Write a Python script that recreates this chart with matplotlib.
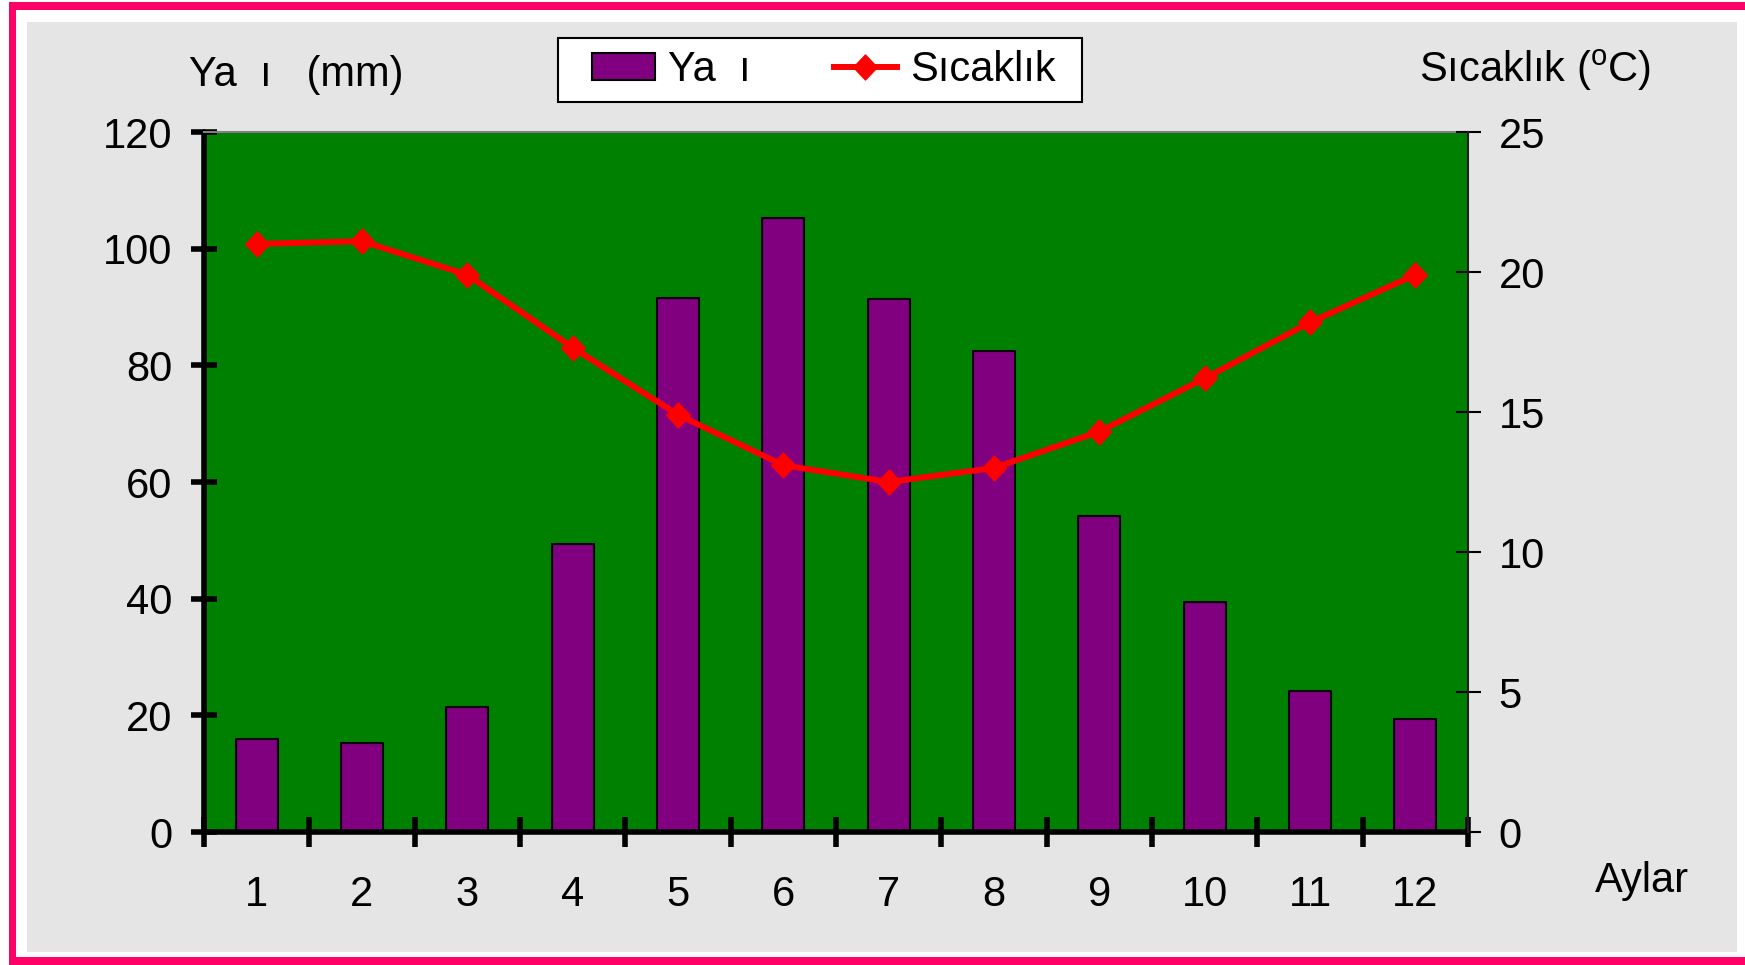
import matplotlib.pyplot as plt
from matplotlib.patches import Rectangle
from matplotlib.path import Path

plt.rcParams['font.family'] = ['Liberation Sans', 'DejaVu Sans']
plt.rcParams['mathtext.fontset'] = 'custom'
plt.rcParams['mathtext.rm'] = 'Liberation Sans'

months = [1, 2, 3, 4, 5, 6, 7, 8, 9, 10, 11, 12]
month_labels = ['1', '2', '3', '4', '5', '6', '7', '8', '9', '10', '11', '12']
rain = [16, 15.3, 21.4, 49.4, 91.6, 105.2, 91.3, 82.4, 54.2, 39.5, 24.2, 19.3]
temp = [21.0, 21.1, 19.9, 17.3, 14.9, 13.1, 12.5, 13.0, 14.3, 16.2, 18.2, 19.9]
rain_ticks = [0, 20, 40, 60, 80, 100, 120]
temp_ticks = [0, 5, 10, 15, 20, 25]

W, H = 1745, 965
FS = 30
fig = plt.figure(figsize=(W / 100, H / 100), dpi=100)
fig.patch.set_facecolor('white')


def px_rect(x0, y0, x1, y1, face, edge='none', lw=0, z=0):
    # rectangle in pixel coords measured from the top-left corner
    r = Rectangle((x0 / W, 1 - y1 / H), (x1 - x0) / W, (y1 - y0) / H,
                  transform=fig.transFigure, facecolor=face,
                  edgecolor=edge, linewidth=lw, zorder=z)
    fig.add_artist(r)
    return r


px_rect(9, 2, W + 10, H + 10, '#FF0066')
px_rect(16, 10, W + 10, 957, 'white')
px_rect(27, 22, 1737, 952, '#E5E5E5')

left, right, top, bottom = 204, 1468, 132, 832
ax = fig.add_axes([left / W, 1 - bottom / H, (right - left) / W, (bottom - top) / H])
ax.set_facecolor('#008000')
ax.bar(months, rain, width=0.4, color='#800080', edgecolor='black', linewidth=1.5, zorder=2)
ax.set_xlim(0.5, 12.5)
ax.set_ylim(0, 120)
ax.set_yticks(rain_ticks)
ax.set_xticks([m - 0.5 for m in months] + [12.5])
ax.set_xticklabels([])
ax.set_xticks(months, minor=True)
ax.set_xticklabels(month_labels, minor=True)
ax.tick_params(axis='x', which='major', direction='inout', length=21, width=4)
ax.tick_params(axis='x', which='minor', length=0, pad=31, labelsize=FS)
ax.tick_params(axis='y', direction='inout', length=19, width=4, pad=13, labelsize=FS)
for s in ['left', 'bottom']:
    ax.spines[s].set_linewidth(4)
    ax.spines[s].set_capstyle('round')
ax.spines['top'].set_color('#808080')
ax.spines['top'].set_linewidth(1.5)
ax.spines['right'].set_visible(False)

ax2 = ax.twinx()
diamond = Path([(0, 1), (0.95, 0), (0, -1), (-0.95, 0), (0, 1)],
               [Path.MOVETO, Path.LINETO, Path.LINETO, Path.LINETO, Path.CLOSEPOLY])
ax2.plot(months, temp, color='red', linewidth=4.3, marker=diamond, markersize=18,
         markerfacecolor='red', markeredgecolor='red')
ax2.set_ylim(0, 25)
ax2.set_yticks(temp_ticks)
ax2.tick_params(axis='y', direction='inout', length=18, width=1.5, pad=13, labelsize=FS)
ax2.spines['right'].set_color('#202020')
ax2.spines['right'].set_linewidth(1.5)
for s in ['left', 'top', 'bottom']:
    ax2.spines[s].set_visible(False)

fig.text(189 / W, 1 - 75 / H, 'Ya  ı   (mm)', fontsize=FS, va='center', ha='left')
fig.text(1651 / W, 1 - 70 / H, 'Sıcaklık ($^{\\rm o}$C)', fontsize=FS, va='center', ha='right')
fig.text(1595 / W, 1 - 881 / H, 'Aylar', fontsize=FS, va='center', ha='left')

# legend frame drawn separately so the inner spacing can follow the reference
px_rect(558, 38, 1082, 102, 'white', edge='black', lw=1.5, z=3)
leg = fig.legend([ax.patches[0], ax2.lines[0]], ['Ya  ı', 'Sıcaklık'], loc='center left',
                 bbox_to_anchor=(592 / W, 1 - 70 / H), ncol=2,
                 fontsize=FS, frameon=False, borderpad=0, borderaxespad=0,
                 handlelength=1.51, handleheight=0.6, handletextpad=0.31,
                 columnspacing=2.0)
leg.set_zorder(4)

fig.savefig('out.png', dpi=100)
